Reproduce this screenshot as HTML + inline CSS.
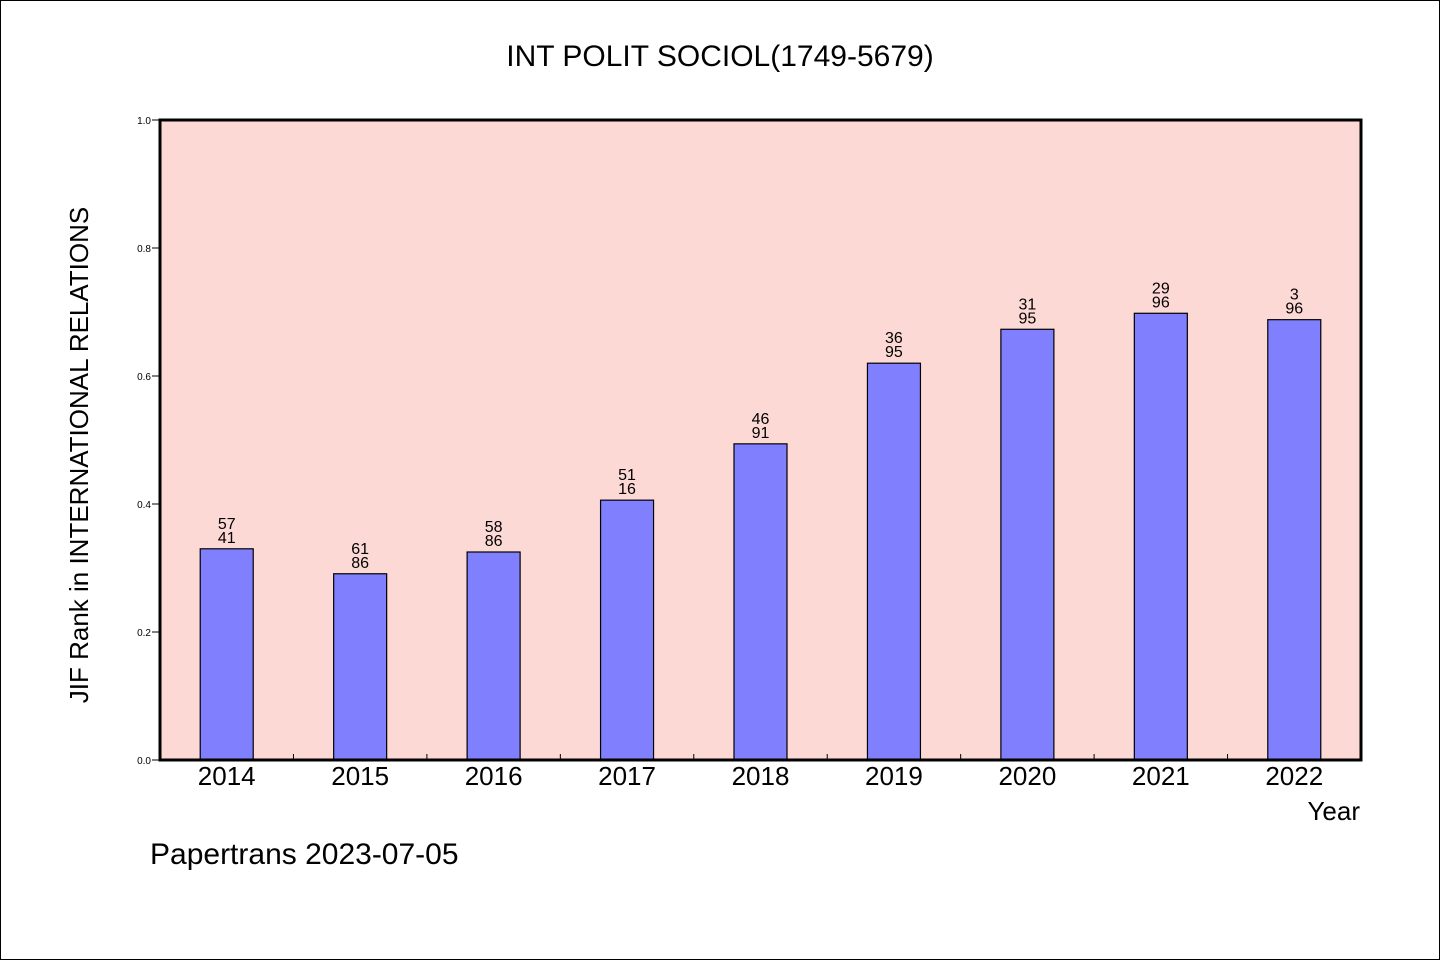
<!DOCTYPE html>
<html><head><meta charset="utf-8"><style>
body{margin:0;background:#fff}
svg{display:block;font-family:"WenQuanYi Zen Hei","Liberation Sans",sans-serif}
</style></head><body>
<svg width="1440" height="960">
<rect x="0.5" y="0.5" width="1439" height="959" fill="#fff" stroke="#000"/>
<text x="720" y="66" text-anchor="middle" font-size="30">INT POLIT SOCIOL(1749-5679)</text>
<rect x="160" y="120" width="1201" height="640" fill="#fdd9d6"/>
<g id="ticks"></g>
<g id="bars"></g>
<rect x="160" y="120" width="1201" height="640" fill="none" stroke="#000" stroke-width="3"/>
<text transform="translate(88,455) rotate(-90)" text-anchor="middle" font-size="26">JIF Rank in INTERNATIONAL RELATIONS</text>
<text x="1360" y="820" text-anchor="end" font-size="26">Year</text>
<text x="150" y="864" font-size="30">Papertrans 2023-07-05</text>
</svg>
<script>
const years=["2014","2015","2016","2017","2018","2019","2020","2021","2022"];
const values=[0.330,0.291,0.325,0.406,0.494,0.620,0.673,0.698,0.688];
const topLabels=["57","61","58","51","46","36","31","29","3"];
const bottomLabels=["41","86","86","16","91","95","95","96","96"];
const yTicks=["0.0","0.2","0.4","0.6","0.8","1.0"];
const NS="http://www.w3.org/2000/svg";
const X0=160,W=1201,Y0=760,H=640;
const step=W/years.length;
const xc=i=>X0+step*(i+0.5);
const y=v=>Y0-v*H;
function mk(t,a,p){const e=document.createElementNS(NS,t);for(const k in a)e.setAttribute(k,a[k]);p.appendChild(e);return e;}
const tg=document.getElementById('ticks'),bg=document.getElementById('bars');
yTicks.forEach(t=>{const v=parseFloat(t);
 const l=mk('line',{x1:152,x2:160,y1:y(v),y2:y(v),stroke:'#000'},tg);
 
 
 const tx=mk('text',{x:151,y:y(v)+4,'text-anchor':'end','font-size':10},tg);tx.textContent=t;
 
 
});
for(let i=1;i<years.length;i++){const l=mk('line',{x1:X0+step*i,x2:X0+step*i,y1:Y0,y2:Y0-6,stroke:'#000'},tg);
 
 }
years.forEach((yr,i)=>{
 const bw=53,cx=xc(i);
 const r=mk('rect',{x:cx-bw/2,y:y(values[i]),width:bw,height:values[i]*H,fill:'#8080ff',stroke:'#000','stroke-width':1.2},bg);
 
 
 const t1=mk('text',{x:cx,y:y(values[i])-20,'text-anchor':'middle','font-size':16},bg);t1.textContent=topLabels[i];
 
 
 const t2=mk('text',{x:cx,y:y(values[i])-6,'text-anchor':'middle','font-size':16},bg);t2.textContent=bottomLabels[i];
 
 
 const xl=mk('text',{x:cx,y:785,'text-anchor':'middle','font-size':26},bg);xl.textContent=yr;
 
 
});
</script>
</body></html>
